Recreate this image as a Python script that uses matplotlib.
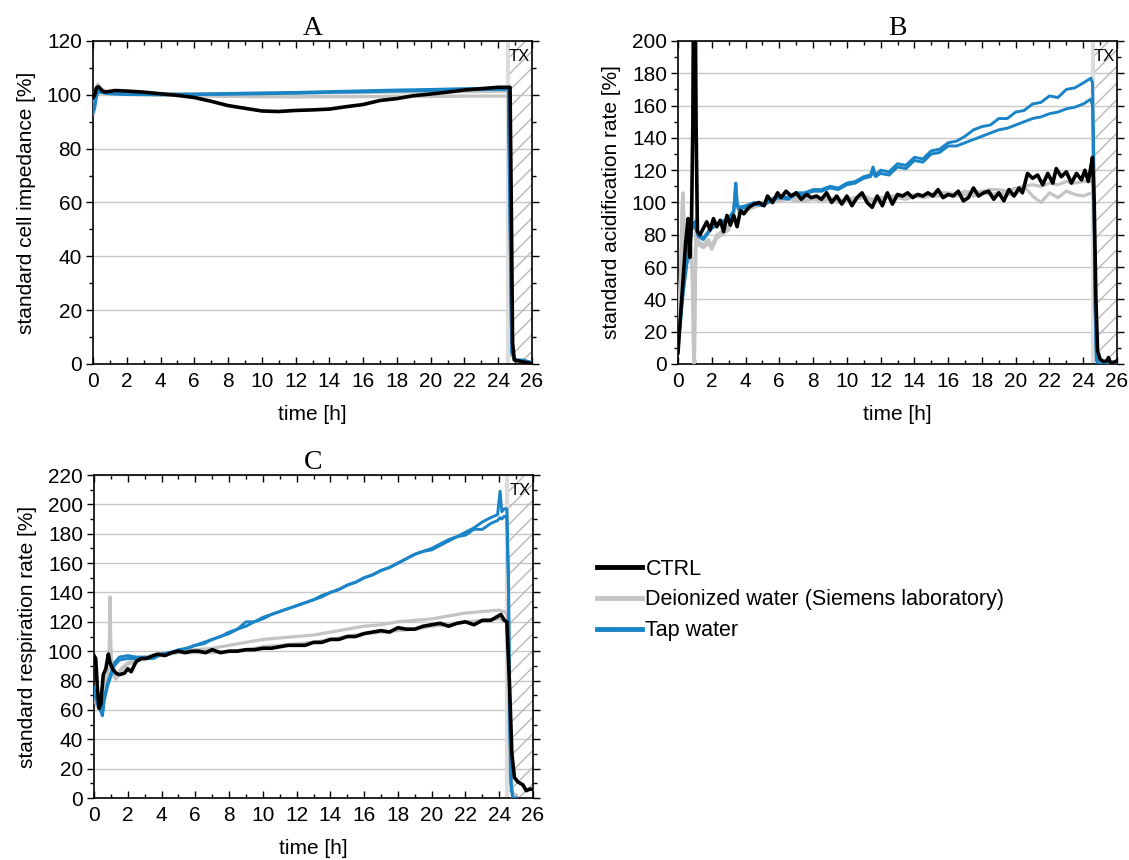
import matplotlib
matplotlib.use("Agg")
import matplotlib.pyplot as plt
from matplotlib.lines import Line2D
from matplotlib.ticker import MultipleLocator

plt.rcParams['font.family'] = ['Liberation Sans', 'DejaVu Sans']

# ---------------- DATA ----------------
# Panel A: standard cell impedance [%]
tA_ctrl = [0, 0.1, 0.2, 0.3, 0.4, 0.55, 0.7, 1.0, 1.3, 2, 3, 4, 5, 6, 7, 8, 9, 10, 11, 12, 13, 14, 15, 16,
           17, 18, 19, 20, 21, 22, 23, 24, 24.7, 24.78, 24.85, 24.95, 25.3, 25.7, 26]
A_ctrl = [99, 100, 102.5, 103, 102.5, 101.5, 101, 101.3, 101.6, 101.4, 101, 100.4, 99.8, 99, 97.6, 96, 95,
          94, 93.8, 94.2, 94.4, 94.7, 95.6, 96.4, 97.9, 98.6, 99.7, 100.3, 101, 101.8, 102.3, 102.8, 102.8,
          55, 8, 1.5, 1, 0.5, 0.2]
tA_tap = [0, 0.1, 0.2, 0.3, 0.5, 1, 2, 4, 6, 8, 10, 12, 14, 16, 18, 20, 22, 24, 24.6, 24.7, 24.8, 25, 25.5, 26]
A_tap1 = [93, 95, 99, 101.5, 101, 100.5, 100.3, 100.2, 100.3, 100.5, 100.7, 100.9, 101.2, 101.5, 101.8, 102,
          102.3, 102.4, 102.4, 60, 5, 1.5, 1.5, 0.5]
A_tap2 = [95, 97, 100, 101, 100.8, 100.4, 100.1, 100, 100.1, 100.2, 100.4, 100.6, 100.9, 101.1, 101.4, 101.6,
          101.9, 102, 102, 50, 4, 1.5, 1.2, 0.4]
tA_deion = [0, 0.1, 0.2, 0.3, 0.5, 1, 2, 4, 6, 8, 10, 12, 14, 16, 18, 20, 22, 24, 24.6, 24.7, 24.8, 25, 25.5, 26]
A_deion1 = [97, 100, 103, 104, 102, 101, 100.8, 100.4, 100.4, 100.5, 100.6, 100.7, 100.8, 100.9, 101, 101.1,
            101.2, 101.3, 101.3, 55, 4, 1.5, 1, 0.3]
A_deion2 = [96, 99, 102, 103, 101, 100.5, 100.2, 99.9, 99.6, 99.4, 99.3, 99.2, 99.3, 99.3, 99.4, 99.4,
            99.5, 99.5, 99.5, 50, 4, 1.3, 0.8, 0.3]

# Panel B: standard acidification rate [%]
tB_ctrl = [0, 0.15, 0.3, 0.45, 0.6, 0.7, 0.8, 0.88, 0.93, 1.0, 1.07, 1.15, 1.3, 1.5, 1.7, 1.9, 2.1, 2.3, 2.5,
           2.7, 2.9, 3.1, 3.3, 3.5, 3.7, 3.9, 4.2, 4.5, 4.8, 5.1, 5.3, 5.6, 5.9, 6.1, 6.4, 6.7, 7.0, 7.3,
           7.6, 7.9, 8.2, 8.5, 8.8, 9.1, 9.4, 9.7, 10.0, 10.3, 10.6, 10.9, 11.2, 11.5, 11.8, 12.1, 12.4,
           12.7, 13.0, 13.3, 13.6, 13.9, 14.2, 14.5, 14.8, 15.1, 15.4, 15.7, 16.0, 16.3, 16.6, 16.9, 17.2,
           17.5, 17.8, 18.1, 18.4, 18.7, 19.0, 19.3, 19.6, 19.9, 20.2, 20.4, 20.7, 21.0, 21.3, 21.6, 21.9,
           22.2, 22.4, 22.7, 23.0, 23.3, 23.6, 23.9, 24.1, 24.3, 24.45, 24.55, 24.65, 24.75, 24.85, 25.0,
           25.2, 25.4, 25.5, 25.6, 25.8, 26]
B_ctrl = [7, 30, 52, 75, 90, 66, 88, 150, 260, 260, 150, 82, 80, 84, 88, 83, 90, 85, 89, 82, 92, 86, 92,
          85, 95, 93, 97, 99, 100, 98, 104, 100, 106, 103, 107, 104, 106, 102, 105, 103, 104, 102, 106,
          100, 104, 99, 104, 98, 103, 106, 100, 97, 104, 98, 106, 99, 105, 104, 106, 103, 105, 104, 106,
          104, 108, 103, 105, 104, 107, 101, 103, 109, 104, 106, 107, 102, 106, 101, 108, 104, 109, 106,
          118, 115, 117, 111, 118, 112, 121, 116, 119, 112, 118, 114, 120, 113, 122, 128, 100, 40, 8,
          3, 1.5, 2, 4, 1, 1, 2]
tB_tap = [0, 0.3, 0.6, 0.8, 1.0, 1.2, 1.5, 2.0, 2.5, 3.0, 3.3, 3.42, 3.5, 3.6, 4, 4.5, 5, 5.5, 6, 6.5, 7,
          7.5, 8, 8.5, 9, 9.5, 10, 10.5, 11, 11.4, 11.55, 11.7, 12, 12.5, 13, 13.5, 14, 14.5, 15, 15.5, 16,
          16.5, 17, 17.5, 18, 18.5, 19, 19.5, 20, 20.5, 21, 21.5, 22, 22.5, 23, 23.5, 24, 24.45, 24.55,
          24.62, 24.7, 24.78, 25, 26]
B_tap1 = [12, 45, 70, 85, 88, 80, 78, 85, 88, 90, 95, 112, 100, 97,
          98, 100, 99, 102, 104, 103, 106, 106, 108, 108, 110, 109, 112, 113, 116, 117, 122, 117, 120, 119,
          124, 123, 128, 127, 132, 133, 137, 138, 141, 145, 147, 148, 152, 152, 156, 157, 161, 162, 166, 165,
          170, 171, 174, 177,
          174, 130, 40, 2, 0, 0]
B_tap2 = [10, 43, 68, 83, 86, 79, 77, 84, 87, 89, 94, 110, 98, 96,
          97, 99, 98, 101, 103, 102, 105, 105, 107, 107, 109, 108, 111, 112, 115, 116, 119, 116, 118, 117,
          122, 121, 126, 125, 130, 131, 135, 135, 137, 139, 141, 143, 145, 146, 148, 150, 152, 153, 155, 156,
          158, 159, 161, 164,
          160, 120, 35, 2, 0, 0]
tB_deion = [0, 0.15, 0.25, 0.3, 0.35, 0.45, 0.6, 0.8, 0.88, 0.93, 0.97, 1.02, 1.08, 1.2, 1.5, 1.8, 2.0,
            2.3, 2.6, 3.0, 3.3, 3.42, 3.5, 3.6, 4, 4.5, 5, 5.5, 6, 6.5, 7, 7.5, 8, 8.5, 9, 9.5, 10, 10.5,
            11, 11.5, 12, 12.5, 13, 13.5, 14, 14.5, 15, 15.5, 16, 16.5, 17, 17.5, 18, 18.5, 19, 19.5, 20,
            20.5, 21, 21.5, 22, 22.5, 23, 23.5, 24, 24.5, 24.6, 24.7, 24.8, 25, 26]
B_deion1 = [25, 55, 100, 106, 90, 70, 65, 72, 40, 0, 0, 50, 90, 76, 74, 77, 73, 80, 82, 85, 95, 112, 100,
            95, 96, 98, 100, 101, 102, 104, 103, 102, 103, 102, 103, 101, 102, 103, 104, 102, 103, 104,
            104, 103, 105, 104, 105, 106, 106, 105, 107, 106, 107, 108, 108, 107, 109, 110, 111, 110,
            112, 111, 113, 112, 113, 113, 110, 60, 5, 1, 0.5]
B_deion2 = [20, 50, 95, 100, 85, 68, 63, 70, 38, 0, 0, 45, 85, 74, 72, 75, 71, 78, 80, 83, 93, 110, 98,
            94, 95, 97, 99, 100, 101, 102, 101, 101, 102, 101, 102, 100, 101, 102, 103, 101, 102, 103,
            103, 102, 104, 103, 104, 104, 105, 104, 105, 104, 106, 105, 106, 105, 105, 110, 104, 100,
            106, 103, 107, 105, 104, 106, 104, 55, 5, 1, 0.5]

# Panel C: standard respiration rate [%]
tC_ctrl = [0, 0.1, 0.2, 0.3, 0.4, 0.55, 0.7, 0.85, 0.95, 1.1, 1.3, 1.5, 1.8, 2.0, 2.2, 2.5, 2.8, 3.1, 3.5,
           3.8, 4.2, 4.6, 5.0, 5.4, 5.8, 6.2, 6.6, 7.0, 7.5, 8.0, 8.5, 9.0, 9.5, 10.0, 10.5, 11.0, 11.5,
           12.0, 12.5, 13.0, 13.5, 14.0, 14.5, 15.0, 15.5, 16.0, 16.5, 17.0, 17.5, 18.0, 18.5, 19.0,
           19.5, 20.0, 20.5, 21.0, 21.5, 22.0, 22.5, 23.0, 23.5, 23.8, 24.1, 24.3, 24.45, 24.6, 24.75,
           24.9, 25.1, 25.4, 25.6, 25.8, 26]
C_ctrl = [97, 95, 75, 61, 64, 84, 88, 98, 92, 88, 85, 84, 85, 88, 86, 93, 95, 95, 97, 98, 97, 99, 100,
          99, 100, 100, 99, 101, 99, 100, 100, 101, 101, 102, 102, 103, 104, 104, 104, 106, 106, 108,
          108, 110, 110, 112, 113, 114, 113, 116, 115, 115, 117, 118, 119, 117, 119, 120, 118, 121,
          121, 123, 125, 121, 120, 80, 30, 14, 11, 9, 5, 6, 6]
tC_tap = [0, 0.2, 0.4, 0.5, 0.6, 0.8, 1.0, 1.2, 1.5, 2.0, 2.5, 3.0, 3.5,
          4, 4.5, 5, 5.5, 6, 6.5, 7, 7.5, 8, 8.5, 9, 9.5, 10, 10.5, 11, 11.5, 12, 12.5, 13, 13.5,
          14, 14.5, 15, 15.5, 16, 16.5, 17, 17.5, 18, 18.5, 19, 19.5, 20, 20.5, 21, 21.5, 22, 22.5, 23, 23.5,
          23.9, 24.05, 24.15, 24.3, 24.45, 24.55, 24.62, 24.7, 24.8, 25]
C_tap1 = [75, 65, 60, 57, 68, 78, 85, 92, 96, 97, 96, 96, 95,
          98, 99, 101, 102, 104, 106, 108, 110, 113, 115, 120, 120, 123, 125, 127, 129, 131, 133, 135, 137,
          140, 142, 145, 147, 150, 152, 155, 157, 160, 163, 166, 168, 170, 173, 176, 178, 181, 184, 188, 191,
          193, 209, 195, 197, 197, 150, 60, 10, 0, 0]
C_tap2 = [72, 64, 59, 56, 66, 76, 83, 90, 94, 95, 95, 95, 95,
          98, 99, 100, 102, 104, 105, 108, 110, 112, 115, 117, 120, 122, 125, 127, 129, 131, 133, 135, 138,
          140, 142, 145, 147, 150, 152, 155, 157, 160, 163, 166, 168, 169, 172, 175, 178, 179, 183, 183, 187,
          189, 191, 190, 192, 191, 140, 50, 8, 0, 0]
tC_deion = [0, 0.2, 0.4, 0.6, 0.8, 0.9, 0.95, 1.0, 1.1, 1.3, 1.6, 2, 3, 4, 5, 6, 7, 8, 9, 10, 11, 12, 13,
            14, 15, 16, 17, 18, 19, 20, 21, 22, 23, 24, 24.45, 24.55, 24.65, 24.8, 25]
C_deion1 = [70, 63, 62, 75, 85, 100, 137, 100, 85, 82, 88, 92, 96, 98, 100, 101, 102, 104, 106, 108, 109,
            110, 111, 113, 115, 117, 118, 120, 121, 122, 124, 126, 127, 128, 126, 80, 20, 3, 2]
C_deion2 = [68, 62, 61, 73, 83, 96, 120, 97, 84, 81, 87, 91, 95, 97, 99, 99, 99, 100, 101, 103, 104,
            105, 106, 108, 110, 112, 113, 114, 115, 117, 118, 120, 121, 122, 120, 70, 15, 3, 2]

# labels
panel_titles = ["A", "B", "C"]
y_labels = ["standard cell impedance [%]", "standard acidification rate [%]",
            "standard respiration rate [%]"]
x_label = "time [h]"
legend_labels = ["CTRL", "Deionized water (Siemens laboratory)", "Tap water"]
tx_label = "TX"

# ---------------- STYLE ----------------
C_BLACK = "#000000"
C_GRAY = "#c4c4c4"
C_BLUE = "#1b84c6"
FS = 15

fig = plt.figure(figsize=(11.29, 8.60), dpi=100)
W, H = 1129, 860


def make_ax(l, t, r, b):
    return fig.add_axes([l / W, 1 - b / H, (r - l) / W, (b - t) / H])


axA = make_ax(93, 41, 532, 364)
axB = make_ax(678, 41, 1117, 364)
axC = make_ax(94, 475, 533, 798)

panels = [
    (axA, 120, 24.5, [(tA_deion, A_deion1), (tA_deion, A_deion2)], [(tA_tap, A_tap1), (tA_tap, A_tap2)],
     [(tA_ctrl, A_ctrl)]),
    (axB, 200, 24.5, [(tB_deion, B_deion1), (tB_deion, B_deion2)], [(tB_tap, B_tap1), (tB_tap, B_tap2)],
     [(tB_ctrl, B_ctrl)]),
    (axC, 220, 24.4, [(tC_deion, C_deion1), (tC_deion, C_deion2)], [(tC_tap, C_tap1), (tC_tap, C_tap2)],
     [(tC_ctrl, C_ctrl)]),
]

for i, (ax, ymax, txs, grays, blues, blacks) in enumerate(panels):
    ax.axvspan(txs, 26, facecolor="none", edgecolor="#b8b8b8", hatch="//", lw=0, zorder=1)
    ax.axvline(txs + 0.05, color="#dcdcdc", lw=3, zorder=1.5)
    for t, y in grays:
        ax.plot(t, y, color=C_GRAY, lw=2.3, zorder=3, solid_joinstyle="round")
    for t, y in blues:
        ax.plot(t, y, color=C_BLUE, lw=2.1, zorder=4, solid_joinstyle="round")
    for t, y in blacks:
        ax.plot(t, y, color=C_BLACK, lw=2.6, zorder=5, solid_joinstyle="round")
    ax.set_xlim(0, 26)
    ax.set_ylim(0, ymax)
    ax.xaxis.set_major_locator(MultipleLocator(2))
    ax.xaxis.set_minor_locator(MultipleLocator(1))
    ax.yaxis.set_major_locator(MultipleLocator(20))
    ax.yaxis.set_minor_locator(MultipleLocator(10))
    ax.grid(axis="y", which="major", color="#c8c8c8", lw=1.0, zorder=0)
    ax.set_axisbelow(True)
    ax.tick_params(axis="x", which="both", direction="in", top=True, labelsize=FS, pad=6)
    ax.tick_params(axis="x", which="major", length=5, width=1.0)
    ax.tick_params(axis="x", which="minor", length=3, width=1.0)
    ax.tick_params(axis="y", which="both", direction="out", right=True, labelsize=FS, pad=3)
    ax.tick_params(axis="y", which="major", length=5, width=1.0)
    ax.tick_params(axis="y", which="minor", length=3, width=1.0)
    for s in ax.spines.values():
        s.set_linewidth(1.2)
    ax.set_xlabel(x_label, fontsize=FS, labelpad=10)
    ax.set_ylabel(y_labels[i], fontsize=FS, labelpad=8)
    ax.set_title(panel_titles[i], fontsize=20, family=["Liberation Serif", "DejaVu Serif"], pad=3)
    ax.text(25.25, ymax * 0.975, tx_label, fontsize=12, ha="center", va="top", zorder=6)

handles = [Line2D([], [], color=C_BLACK, lw=3.5),
           Line2D([], [], color=C_GRAY, lw=3.5),
           Line2D([], [], color=C_BLUE, lw=3.5)]
fig.legend(handles, legend_labels, loc="center left", bbox_to_anchor=(597 / W, 1 - 600 / H),
           frameon=False, fontsize=15.5, handlelength=2.1, handletextpad=0.15, labelspacing=0.45,
           borderpad=0, borderaxespad=0)

fig.savefig("out.png", dpi=100)
